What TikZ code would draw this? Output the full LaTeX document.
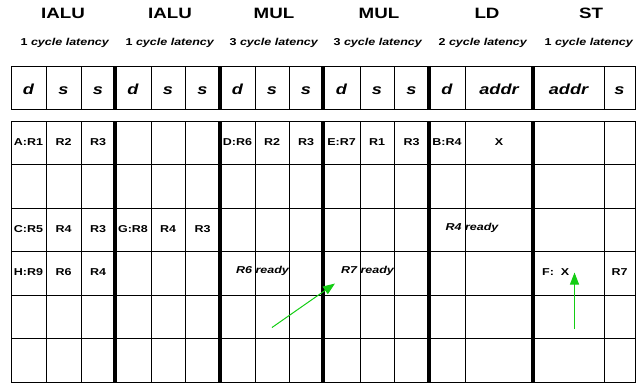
\documentclass[tikz,border=0pt]{standalone}
\usepackage{fontspec}
\newfontfamily\diagfont[FakeStretch=1.25]{Liberation Sans}
\usetikzlibrary{arrows.meta}
\definecolor{arrgreen}{RGB}{20,205,20}

\begin{document}
\begin{tikzpicture}[
	x=1bp, y=-1bp,
	title/.style={ anchor=base, font=\diagfont\fontsize{15bp}{18bp}\selectfont\bfseries },
	lat/.style={ anchor=base, font=\diagfont\fontsize{10bp}{12bp}\selectfont\bfseries },
	hdr/.style={ anchor=base, font=\diagfont\fontsize{14.5bp}{17bp}\selectfont\bfseries\itshape },
	cell/.style={ anchor=base, inner sep=0pt, font=\diagfont\fontsize{10bp}{12bp}\selectfont\bfseries },
	note/.style={ anchor=base, inner sep=0pt, font=\diagfont\fontsize{10bp}{12bp}\selectfont\bfseries\itshape },
	gridline/.style={ line width=1bp },
	unitline/.style={ line width=4bp },
	arr/.style={ arrgreen, line width=1bp, -{Triangle[length=12bp,width=9bp]} }
]
\useasboundingbox (0,0) rectangle (639,383);

% unit names and latencies
\node at (63,18.5) (ialua) [title] {IALU};
\node at (170,18.5) (ialub) [title] {IALU};
\node at (274,18.5) (mula) [title] {MUL};
\node at (379,18.5) (mulb) [title] {MUL};
\node at (487,18.5) (ld) [title] {LD};
\node at (591,18.5) (st) [title] {ST};
\node at (65,45.5) (lata) [lat] {1 \textit{cycle latency}};
\node at (170,45.5) (latb) [lat] {1 \textit{cycle latency}};
\node at (274,45.5) (latc) [lat] {3 \textit{cycle latency}};
\node at (378,45.5) (latd) [lat] {3 \textit{cycle latency}};
\node at (483,45.5) (late) [lat] {2 \textit{cycle latency}};
\node at (589,45.5) (latf) [lat] {1 \textit{cycle latency}};

% field row
\draw[gridline] (11,66.5) rectangle (635,109.5);
\foreach \x in {46,81,151,185,255,289,360,394,465,604}
  \draw[gridline] (\x,66.5) -- (\x,109.5);
\foreach \x in {115,220,323,429,533}
  \draw[unitline] (\x,66.5) -- (\x,109.5);
\foreach \x/\t [count=\i] in {28.5/d,63.5/s,98/s,133/d,168/s,202.5/s,237.5/d,272/s,306/s,
    341.5/d,377/s,411.5/s,447/d,499/addr,568.5/addr,619.5/s}
  \node at (\x,94.5) (fld\i) [hdr] {\t};

% reservation grid
\draw[gridline] (11,121) rectangle (635,382);
\foreach \y in {164.5,208,251.5,295,338.5}
  \draw[gridline] (11,\y) -- (635,\y);
\foreach \x in {46,81,151,185,255,289,360,394,465,604}
  \draw[gridline] (\x,121) -- (\x,382);
\foreach \x in {115,220,323,429,533}
  \draw[unitline] (\x,121) -- (\x,382);

% cycle 1
\node at (28.5,145.5) (ar1) [cell] {A:R1};
\node at (63.5,145.5) (ar2) [cell] {R2};
\node at (98,145.5) (ar3) [cell] {R3};
\node at (237.5,145.5) (dr6) [cell] {D:R6};
\node at (272,145.5) (dr2) [cell] {R2};
\node at (306,145.5) (dr3) [cell] {R3};
\node at (341.5,145.5) (er7) [cell] {E:R7};
\node at (377,145.5) (er1) [cell] {R1};
\node at (411.5,145.5) (er3) [cell] {R3};
\node at (447,145.5) (br4) [cell] {B:R4};
\node at (499,145.5) (bx) [cell] {X};

% cycle 3
\node at (28.5,232.5) (cr5) [cell] {C:R5};
\node at (63.5,232.5) (cr4) [cell] {R4};
\node at (98,232.5) (cr3) [cell] {R3};
\node at (133,232.5) (gr8) [cell] {G:R8};
\node at (168,232.5) (gr4) [cell] {R4};
\node at (202.5,232.5) (gr3) [cell] {R3};
\node at (472,230.5) (r4rdy) [note] {R4 ready};

% cycle 4
\node at (28.5,275.5) (hr9) [cell] {H:R9};
\node at (63.5,275.5) (hr6) [cell] {R6};
\node at (98,275.5) (hr4) [cell] {R4};
\node at (262.5,273.5) (r6rdy) [note] {R6 ready};
\node at (367.5,273.5) (r7rdy) [note] {R7 ready};
\node at (542,275.5) (fx) [cell,anchor=base west] {F:\ \ X};
\node at (619.5,275.5) (fr7) [cell] {R7};

% forwarding
\coordinate (mulout) at (272,327.5);
\coordinate (mulin) at (335,283.5);
\coordinate (stout) at (574.5,329);
\coordinate (stin) at (574.5,272.5);
\draw[arr] (mulout) -- (mulin);
\draw[arr] (stout) -- (stin);

\end{tikzpicture}
\end{document}
